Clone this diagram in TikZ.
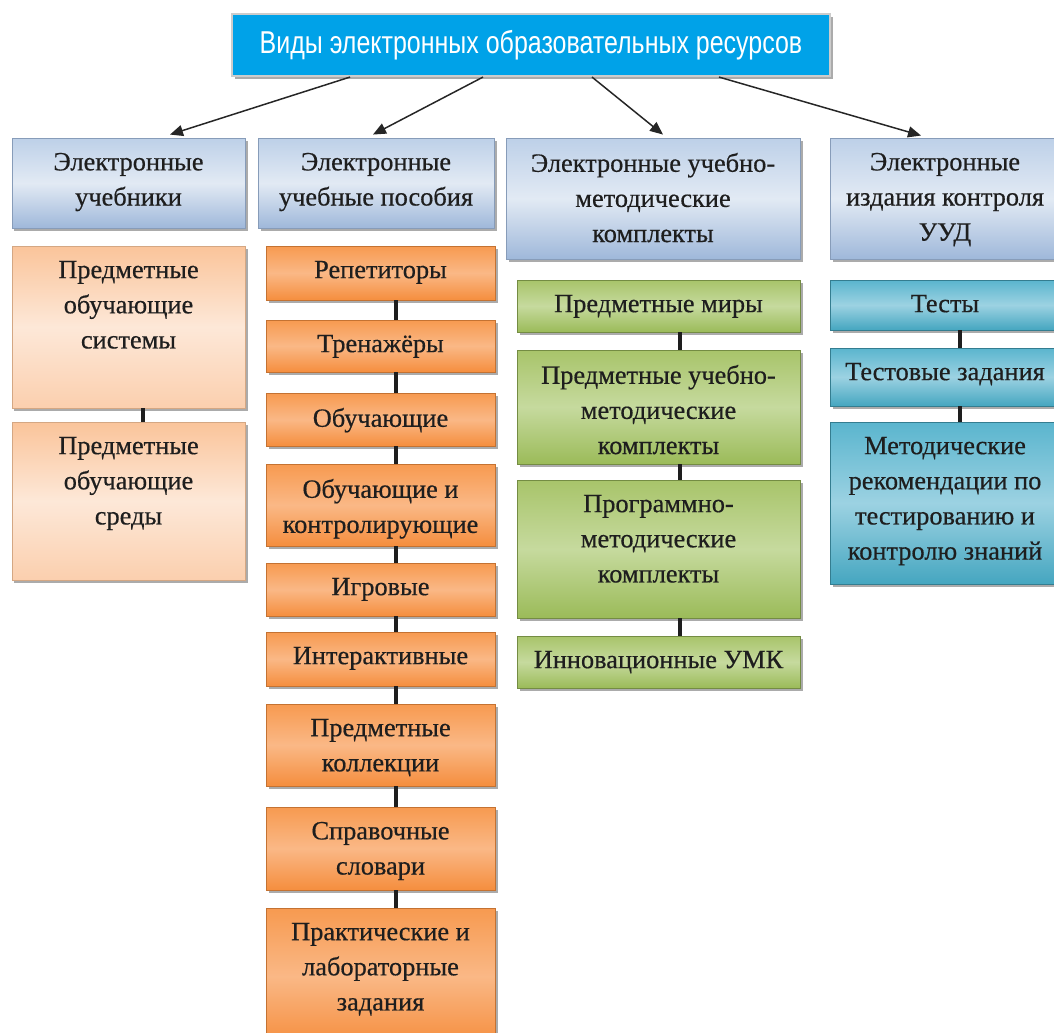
\documentclass[tikz,border=0pt]{standalone}
\usepackage{fontspec}
\setmainfont[FakeBold=0.5]{Liberation Serif}
\newfontfamily\titlefont{Liberation Sans}
\usepackage{tikz}
\usetikzlibrary{arrows.meta, fit, shadows}

\definecolor{titleblue}{HTML}{00A2E8}
\definecolor{hdrA}{HTML}{BDD0E8}
\definecolor{hdrB}{HTML}{9FB8DA}
\definecolor{hdrC}{HTML}{E2EAF4}
\definecolor{peachA}{HTML}{FAC49A}
\definecolor{peachB}{HTML}{FBCFAE}
\definecolor{peachC}{HTML}{FDE8D8}
\definecolor{orA}{HTML}{F79A50}
\definecolor{orB}{HTML}{F58E3E}
\definecolor{orC}{HTML}{FAB886}
\definecolor{grA}{HTML}{A8C46A}
\definecolor{grB}{HTML}{9BBB59}
\definecolor{grC}{HTML}{C6DA9E}
\definecolor{tlA}{HTML}{5AB5CE}
\definecolor{tlB}{HTML}{45A6C0}
\definecolor{tlC}{HTML}{9CD2E2}
\definecolor{textdark}{HTML}{1E1E1E}

\tikzset{
  base/.style={inner sep=0pt, line width=0.5pt,
    drop shadow={shadow xshift=0.05cm, shadow yshift=-0.06cm, fill=black!55, opacity=0.6}},
  titlebox/.style={base, fill=titleblue, draw=black!20, line width=1.2pt},
  hdr/.style={base, top color=hdrA, bottom color=hdrB, middle color=hdrC, draw=hdrB!85!black},
  peach/.style={base, top color=peachA, bottom color=peachB, middle color=peachC, draw=peachA!85!black},
  orng/.style={base, top color=orA, bottom color=orB, middle color=orC, draw=orB!80!black},
  grn/.style={base, top color=grA, bottom color=grB, middle color=grC, draw=grB!75!black},
  teal/.style={base, top color=tlA, bottom color=tlB, middle color=tlC, draw=tlB!75!black},
  txt/.style={inner sep=0pt, align=center, text=textdark, font=\fontsize{15}{20}\selectfont},
  arr/.style={draw=black!85, line width=0.85pt, -{Triangle[length=0.26cm, width=0.22cm]}},
  link/.style={draw=textdark, line width=2.1pt},
}

% box from corner to corner, text hangs from the top
\newcommand{\ebox}[7]{%
  \node[#2, fit={(#3,#4) (#5,#6)}] (#1) {};
  \node[txt, anchor=north] (#1-t) at ([yshift=-0.3cm]#1.north) {#7};
}

\begin{document}
\begin{tikzpicture}[x=0.02cm, y=-0.02cm]
    \useasboundingbox (0,0) rectangle (1054,1032);

    % Title
    \node[titlebox, fit={(232,14) (830,76)}] (title) {};
    \node[text=white, inner sep=0pt] (title-t) at (title.center)
      {\titlefont\fontsize{18}{20}\selectfont\scalebox{0.79}[1]{Виды электронных образовательных ресурсов}};

    % Headers
    \ebox{h1}{hdr}{12}{138}{245}{228}{Электронные\\учебники}
    \ebox{h2}{hdr}{258}{138}{494}{228}{Электронные\\учебные пособия}
    \ebox{h3}{hdr}{506}{138}{800}{259}{Электронные учебно-\\методические\\комплекты}
    \ebox{h4}{hdr}{830}{138}{1060}{259}{Электронные\\издания контроля\\УУД}

    % Column 1
    \ebox{p1}{peach}{12}{246}{245}{408}{Предметные\\обучающие\\системы}
    \ebox{p2}{peach}{12}{422}{245}{580}{Предметные\\обучающие\\среды}

    % Column 2
    \ebox{r1}{orng}{266}{246}{495}{300}{Репетиторы}
    \ebox{r2}{orng}{266}{320}{495}{372}{Тренажёры}
    \ebox{r3}{orng}{266}{393}{495}{446}{Обучающие}
    \ebox{r4}{orng}{266}{464}{495}{546}{Обучающие и\\контролирующие}
    \ebox{r5}{orng}{266}{563}{495}{616}{Игровые}
    \ebox{r6}{orng}{266}{632}{495}{686}{Интерактивные}
    \ebox{r7}{orng}{266}{704}{495}{786}{Предметные\\коллекции}
    \ebox{r8}{orng}{266}{807}{495}{890}{Справочные\\словари}
    \ebox{r9}{orng}{266}{908}{495}{1045}{Практические и\\лабораторные\\задания}

    % Column 3
    \ebox{g1}{grn}{517}{280}{800}{332}{Предметные миры}
    \ebox{g2}{grn}{517}{350}{800}{464}{Предметные учебно-\\методические\\комплекты}
    \ebox{g3}{grn}{517}{480}{800}{618}{Программно-\\методические\\комплекты}
    \ebox{g4}{grn}{517}{636}{800}{688}{Инновационные УМК}

    % Column 4
    \ebox{b1}{teal}{830}{280}{1060}{330}{Тесты}
    \ebox{b2}{teal}{830}{348}{1060}{406}{Тестовые задания}
    \ebox{b3}{teal}{830}{422}{1060}{584}{Методические\\рекомендации по\\тестированию и\\контролю знаний}

    % Arrows from the title
    \coordinate (t1) at ([xshift=-3.62cm]title.south);
    \coordinate (t2) at ([xshift=-0.96cm]title.south);
    \coordinate (t3) at ([xshift=1.22cm]title.south);
    \coordinate (t4) at ([xshift=3.76cm]title.south);
    \draw[arr] (t1) -- ([xshift=0.83cm, yshift=0.06cm]h1.north);
    \draw[arr] (t2) -- ([xshift=-0.06cm, yshift=0.06cm]h2.north);
    \draw[arr] (t3) -- ([xshift=0.2cm, yshift=0.06cm]h3.north);
    \draw[arr] (t4) -- ([xshift=-0.48cm, yshift=0.04cm]h4.north);

    % Vertical links
    \coordinate (c1) at (143,0);
    \coordinate (c2) at (396,0);
    \coordinate (c3) at (680,0);
    \coordinate (c4) at (960,0);
    \draw[link] (p1.south -| c1) -- (p2.north -| c1);
    \foreach \a/\b in {r1/r2, r2/r3, r3/r4, r4/r5, r5/r6, r6/r7, r7/r8, r8/r9}
      \draw[link] (\a.south -| c2) -- (\b.north -| c2);
    \foreach \a/\b in {g1/g2, g2/g3, g3/g4}
      \draw[link] (\a.south -| c3) -- (\b.north -| c3);
    \foreach \a/\b in {b1/b2, b2/b3}
      \draw[link] (\a.south -| c4) -- (\b.north -| c4);

\end{tikzpicture}
\end{document}
